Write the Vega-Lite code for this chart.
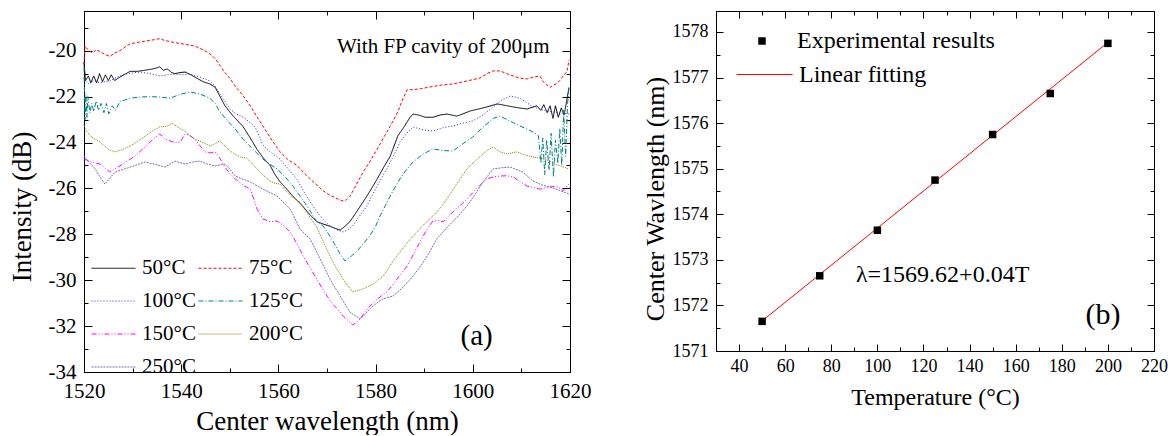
{
"$schema":"https://vega.github.io/schema/vega-lite/v6.json",
"padding":{"left":7,"top":10,"right":4,"bottom":0},
"spacing":146,
"bounds":"flush",
"config":{"font":"Liberation Serif","view":{"stroke":"black","strokeWidth":1},
"axis":{"domainColor":"black","tickColor":"black","labelColor":"black","titleColor":"black","titleFontWeight":"normal","grid":false,"labelOverlap":false,"labelFlush":false,"tickWidth":1,"domainWidth":1,"labelFont":"Liberation Serif","titleFont":"Liberation Serif"},
"legend":{"labelFont":"Liberation Serif","labelColor":"black","labelLimit":400}},
"datasets":{
"spectra":[
{"T":"50°C","wl":1520.0,"dB":-20.5},{"T":"50°C","wl":1520.3,"dB":-21.3},{"T":"50°C","wl":1520.9,"dB":-21.1},{"T":"50°C","wl":1521.4,"dB":-21.4},{"T":"50°C","wl":1522.0,"dB":-21.1},{"T":"50°C","wl":1522.6,"dB":-21.4},{"T":"50°C","wl":1523.2,"dB":-21.0},{"T":"50°C","wl":1523.8,"dB":-21.35},{"T":"50°C","wl":1524.4,"dB":-21.05},{"T":"50°C","wl":1525.0,"dB":-21.3},{"T":"50°C","wl":1525.6,"dB":-21.05},{"T":"50°C","wl":1526.3,"dB":-21.3},{"T":"50°C","wl":1527.0,"dB":-21.2},{"T":"50°C","wl":1528.2,"dB":-21.05},{"T":"50°C","wl":1529.5,"dB":-20.9},{"T":"50°C","wl":1531.0,"dB":-20.9},{"T":"50°C","wl":1532.6,"dB":-20.85},{"T":"50°C","wl":1534.0,"dB":-20.8},{"T":"50°C","wl":1535.0,"dB":-20.75},{"T":"50°C","wl":1535.6,"dB":-20.7},{"T":"50°C","wl":1536.3,"dB":-20.85},{"T":"50°C","wl":1537.2,"dB":-20.8},{"T":"50°C","wl":1538.0,"dB":-20.95},{"T":"50°C","wl":1538.7,"dB":-21.0},{"T":"50°C","wl":1539.8,"dB":-20.95},{"T":"50°C","wl":1540.8,"dB":-20.93},{"T":"50°C","wl":1542.0,"dB":-21.05},{"T":"50°C","wl":1542.8,"dB":-21.15},{"T":"50°C","wl":1544.5,"dB":-21.35},{"T":"50°C","wl":1545.9,"dB":-21.45},{"T":"50°C","wl":1547.0,"dB":-21.6},{"T":"50°C","wl":1548.0,"dB":-22.0},{"T":"50°C","wl":1549.0,"dB":-22.4},{"T":"50°C","wl":1550.5,"dB":-22.8},{"T":"50°C","wl":1552.7,"dB":-23.3},{"T":"50°C","wl":1554.2,"dB":-23.8},{"T":"50°C","wl":1555.6,"dB":-24.3},{"T":"50°C","wl":1557.0,"dB":-24.7},{"T":"50°C","wl":1558.3,"dB":-25.0},{"T":"50°C","wl":1559.3,"dB":-25.4},{"T":"50°C","wl":1560.3,"dB":-25.7},{"T":"50°C","wl":1561.6,"dB":-26.0},{"T":"50°C","wl":1563.0,"dB":-26.35},{"T":"50°C","wl":1564.0,"dB":-26.55},{"T":"50°C","wl":1565.1,"dB":-26.8},{"T":"50°C","wl":1566.5,"dB":-27.15},{"T":"50°C","wl":1567.9,"dB":-27.45},{"T":"50°C","wl":1569.2,"dB":-27.55},{"T":"50°C","wl":1570.6,"dB":-27.65},{"T":"50°C","wl":1571.8,"dB":-27.75},{"T":"50°C","wl":1572.7,"dB":-27.82},{"T":"50°C","wl":1573.7,"dB":-27.65},{"T":"50°C","wl":1574.7,"dB":-27.45},{"T":"50°C","wl":1576.0,"dB":-27.05},{"T":"50°C","wl":1577.4,"dB":-26.6},{"T":"50°C","wl":1578.9,"dB":-26.1},{"T":"50°C","wl":1580.3,"dB":-25.6},{"T":"50°C","wl":1581.6,"dB":-25.1},{"T":"50°C","wl":1583.0,"dB":-24.6},{"T":"50°C","wl":1583.8,"dB":-24.15},{"T":"50°C","wl":1584.6,"dB":-23.7},{"T":"50°C","wl":1585.6,"dB":-23.4},{"T":"50°C","wl":1586.5,"dB":-23.1},{"T":"50°C","wl":1587.1,"dB":-22.9},{"T":"50°C","wl":1587.7,"dB":-22.76},{"T":"50°C","wl":1588.8,"dB":-22.8},{"T":"50°C","wl":1590.2,"dB":-22.9},{"T":"50°C","wl":1591.8,"dB":-22.9},{"T":"50°C","wl":1593.3,"dB":-22.8},{"T":"50°C","wl":1594.7,"dB":-22.76},{"T":"50°C","wl":1596.7,"dB":-22.85},{"T":"50°C","wl":1598.0,"dB":-22.75},{"T":"50°C","wl":1599.4,"dB":-22.63},{"T":"50°C","wl":1601.0,"dB":-22.55},{"T":"50°C","wl":1602.9,"dB":-22.45},{"T":"50°C","wl":1605.0,"dB":-22.32},{"T":"50°C","wl":1606.6,"dB":-22.38},{"T":"50°C","wl":1608.3,"dB":-22.45},{"T":"50°C","wl":1609.7,"dB":-22.5},{"T":"50°C","wl":1611.2,"dB":-22.54},{"T":"50°C","wl":1612.4,"dB":-22.45},{"T":"50°C","wl":1613.2,"dB":-22.4},{"T":"50°C","wl":1614.0,"dB":-22.6},{"T":"50°C","wl":1614.6,"dB":-22.35},{"T":"50°C","wl":1615.3,"dB":-22.7},{"T":"50°C","wl":1615.9,"dB":-22.4},{"T":"50°C","wl":1616.5,"dB":-22.95},{"T":"50°C","wl":1617.0,"dB":-22.4},{"T":"50°C","wl":1617.6,"dB":-22.9},{"T":"50°C","wl":1618.2,"dB":-22.5},{"T":"50°C","wl":1618.8,"dB":-22.8},{"T":"50°C","wl":1619.3,"dB":-22.2},{"T":"50°C","wl":1619.8,"dB":-21.6},
{"T":"75°C","wl":1520.0,"dB":-20.6},{"T":"75°C","wl":1520.2,"dB":-19.8},{"T":"75°C","wl":1521.0,"dB":-20.0},{"T":"75°C","wl":1521.8,"dB":-20.1},{"T":"75°C","wl":1522.5,"dB":-19.95},{"T":"75°C","wl":1523.3,"dB":-20.05},{"T":"75°C","wl":1524.2,"dB":-20.15},{"T":"75°C","wl":1525.3,"dB":-20.25},{"T":"75°C","wl":1526.3,"dB":-20.1},{"T":"75°C","wl":1527.4,"dB":-20.0},{"T":"75°C","wl":1528.4,"dB":-19.85},{"T":"75°C","wl":1529.5,"dB":-19.7},{"T":"75°C","wl":1531.5,"dB":-19.62},{"T":"75°C","wl":1533.6,"dB":-19.55},{"T":"75°C","wl":1535.0,"dB":-19.5},{"T":"75°C","wl":1535.6,"dB":-19.47},{"T":"75°C","wl":1536.5,"dB":-19.55},{"T":"75°C","wl":1537.7,"dB":-19.6},{"T":"75°C","wl":1538.7,"dB":-19.65},{"T":"75°C","wl":1540.8,"dB":-19.72},{"T":"75°C","wl":1542.8,"dB":-19.8},{"T":"75°C","wl":1544.9,"dB":-20.0},{"T":"75°C","wl":1546.3,"dB":-20.2},{"T":"75°C","wl":1547.2,"dB":-20.4},{"T":"75°C","wl":1548.0,"dB":-20.65},{"T":"75°C","wl":1549.0,"dB":-20.95},{"T":"75°C","wl":1550.0,"dB":-21.2},{"T":"75°C","wl":1551.3,"dB":-21.6},{"T":"75°C","wl":1552.7,"dB":-21.95},{"T":"75°C","wl":1554.2,"dB":-22.4},{"T":"75°C","wl":1555.5,"dB":-22.85},{"T":"75°C","wl":1556.8,"dB":-23.28},{"T":"75°C","wl":1558.5,"dB":-23.85},{"T":"75°C","wl":1560.3,"dB":-24.4},{"T":"75°C","wl":1562.0,"dB":-24.75},{"T":"75°C","wl":1563.8,"dB":-25.0},{"T":"75°C","wl":1565.4,"dB":-25.35},{"T":"75°C","wl":1567.1,"dB":-25.7},{"T":"75°C","wl":1569.2,"dB":-26.1},{"T":"75°C","wl":1570.6,"dB":-26.3},{"T":"75°C","wl":1572.1,"dB":-26.45},{"T":"75°C","wl":1573.3,"dB":-26.55},{"T":"75°C","wl":1574.0,"dB":-26.5},{"T":"75°C","wl":1574.7,"dB":-26.35},{"T":"75°C","wl":1576.0,"dB":-25.85},{"T":"75°C","wl":1577.4,"dB":-25.3},{"T":"75°C","wl":1578.9,"dB":-24.8},{"T":"75°C","wl":1580.3,"dB":-24.3},{"T":"75°C","wl":1581.6,"dB":-23.8},{"T":"75°C","wl":1583.0,"dB":-23.3},{"T":"75°C","wl":1584.6,"dB":-22.65},{"T":"75°C","wl":1585.6,"dB":-22.1},{"T":"75°C","wl":1586.5,"dB":-21.7},{"T":"75°C","wl":1587.7,"dB":-21.7},{"T":"75°C","wl":1589.5,"dB":-21.65},{"T":"75°C","wl":1591.2,"dB":-21.58},{"T":"75°C","wl":1593.5,"dB":-21.5},{"T":"75°C","wl":1595.9,"dB":-21.45},{"T":"75°C","wl":1598.8,"dB":-21.32},{"T":"75°C","wl":1601.5,"dB":-21.19},{"T":"75°C","wl":1602.9,"dB":-21.0},{"T":"75°C","wl":1604.2,"dB":-20.88},{"T":"75°C","wl":1605.6,"dB":-20.88},{"T":"75°C","wl":1607.0,"dB":-21.0},{"T":"75°C","wl":1608.3,"dB":-21.1},{"T":"75°C","wl":1609.7,"dB":-21.2},{"T":"75°C","wl":1611.2,"dB":-21.23},{"T":"75°C","wl":1612.5,"dB":-21.15},{"T":"75°C","wl":1613.8,"dB":-21.1},{"T":"75°C","wl":1614.5,"dB":-21.35},{"T":"75°C","wl":1615.3,"dB":-21.5},{"T":"75°C","wl":1615.9,"dB":-21.6},{"T":"75°C","wl":1616.5,"dB":-21.5},{"T":"75°C","wl":1617.2,"dB":-21.45},{"T":"75°C","wl":1617.9,"dB":-21.3},{"T":"75°C","wl":1618.6,"dB":-21.1},{"T":"75°C","wl":1619.4,"dB":-20.9},{"T":"75°C","wl":1619.8,"dB":-20.4},
{"T":"100°C","wl":1520.0,"dB":-21.2},{"T":"100°C","wl":1521.0,"dB":-21.45},{"T":"100°C","wl":1522.0,"dB":-21.3},{"T":"100°C","wl":1523.3,"dB":-21.4},{"T":"100°C","wl":1524.3,"dB":-21.35},{"T":"100°C","wl":1525.3,"dB":-21.32},{"T":"100°C","wl":1526.8,"dB":-21.15},{"T":"100°C","wl":1528.4,"dB":-21.02},{"T":"100°C","wl":1530.0,"dB":-20.97},{"T":"100°C","wl":1531.5,"dB":-20.93},{"T":"100°C","wl":1533.6,"dB":-21.0},{"T":"100°C","wl":1535.6,"dB":-21.1},{"T":"100°C","wl":1537.2,"dB":-21.05},{"T":"100°C","wl":1538.7,"dB":-21.02},{"T":"100°C","wl":1540.3,"dB":-21.05},{"T":"100°C","wl":1541.8,"dB":-21.02},{"T":"100°C","wl":1543.9,"dB":-21.15},{"T":"100°C","wl":1545.9,"dB":-21.32},{"T":"100°C","wl":1547.0,"dB":-21.55},{"T":"100°C","wl":1548.0,"dB":-21.89},{"T":"100°C","wl":1549.0,"dB":-22.2},{"T":"100°C","wl":1550.0,"dB":-22.54},{"T":"100°C","wl":1551.3,"dB":-22.75},{"T":"100°C","wl":1552.7,"dB":-22.89},{"T":"100°C","wl":1554.0,"dB":-23.1},{"T":"100°C","wl":1555.2,"dB":-23.32},{"T":"100°C","wl":1556.0,"dB":-23.7},{"T":"100°C","wl":1556.8,"dB":-24.1},{"T":"100°C","wl":1558.5,"dB":-24.45},{"T":"100°C","wl":1560.3,"dB":-24.72},{"T":"100°C","wl":1562.0,"dB":-25.15},{"T":"100°C","wl":1563.8,"dB":-25.6},{"T":"100°C","wl":1565.4,"dB":-26.2},{"T":"100°C","wl":1567.1,"dB":-26.77},{"T":"100°C","wl":1568.2,"dB":-27.1},{"T":"100°C","wl":1569.2,"dB":-27.35},{"T":"100°C","wl":1570.6,"dB":-27.64},{"T":"100°C","wl":1572.0,"dB":-27.8},{"T":"100°C","wl":1573.3,"dB":-27.9},{"T":"100°C","wl":1574.3,"dB":-27.8},{"T":"100°C","wl":1575.3,"dB":-27.64},{"T":"100°C","wl":1576.7,"dB":-27.2},{"T":"100°C","wl":1578.2,"dB":-26.77},{"T":"100°C","wl":1579.3,"dB":-26.3},{"T":"100°C","wl":1580.3,"dB":-25.9},{"T":"100°C","wl":1582.3,"dB":-25.15},{"T":"100°C","wl":1583.4,"dB":-24.7},{"T":"100°C","wl":1584.4,"dB":-24.28},{"T":"100°C","wl":1585.0,"dB":-23.98},{"T":"100°C","wl":1586.4,"dB":-23.6},{"T":"100°C","wl":1587.7,"dB":-23.32},{"T":"100°C","wl":1589.8,"dB":-23.45},{"T":"100°C","wl":1591.8,"dB":-23.5},{"T":"100°C","wl":1594.0,"dB":-23.35},{"T":"100°C","wl":1595.9,"dB":-23.28},{"T":"100°C","wl":1598.0,"dB":-23.15},{"T":"100°C","wl":1600.0,"dB":-23.06},{"T":"100°C","wl":1602.1,"dB":-22.8},{"T":"100°C","wl":1604.2,"dB":-22.45},{"T":"100°C","wl":1606.0,"dB":-22.15},{"T":"100°C","wl":1607.7,"dB":-21.97},{"T":"100°C","wl":1609.7,"dB":-22.07},{"T":"100°C","wl":1611.0,"dB":-22.25},{"T":"100°C","wl":1612.4,"dB":-22.45},{"T":"100°C","wl":1614.0,"dB":-22.55},{"T":"100°C","wl":1615.3,"dB":-22.63},{"T":"100°C","wl":1617.5,"dB":-22.7},{"T":"100°C","wl":1619.8,"dB":-22.76},
{"T":"125°C","wl":1520.0,"dB":-20.7},{"T":"125°C","wl":1520.2,"dB":-23.0},{"T":"125°C","wl":1520.4,"dB":-21.9},{"T":"125°C","wl":1520.6,"dB":-22.9},{"T":"125°C","wl":1520.8,"dB":-22.0},{"T":"125°C","wl":1521.2,"dB":-22.7},{"T":"125°C","wl":1521.6,"dB":-22.3},{"T":"125°C","wl":1522.0,"dB":-22.65},{"T":"125°C","wl":1522.5,"dB":-22.2},{"T":"125°C","wl":1523.0,"dB":-22.6},{"T":"125°C","wl":1523.5,"dB":-22.3},{"T":"125°C","wl":1524.1,"dB":-22.7},{"T":"125°C","wl":1524.6,"dB":-22.3},{"T":"125°C","wl":1525.1,"dB":-22.75},{"T":"125°C","wl":1525.8,"dB":-22.4},{"T":"125°C","wl":1526.5,"dB":-22.6},{"T":"125°C","wl":1527.4,"dB":-22.2},{"T":"125°C","wl":1528.4,"dB":-22.15},{"T":"125°C","wl":1529.5,"dB":-22.07},{"T":"125°C","wl":1531.5,"dB":-22.02},{"T":"125°C","wl":1533.5,"dB":-22.0},{"T":"125°C","wl":1535.6,"dB":-22.02},{"T":"125°C","wl":1537.7,"dB":-22.07},{"T":"125°C","wl":1539.8,"dB":-21.9},{"T":"125°C","wl":1541.8,"dB":-21.8},{"T":"125°C","wl":1543.9,"dB":-21.89},{"T":"125°C","wl":1545.9,"dB":-22.07},{"T":"125°C","wl":1547.0,"dB":-22.3},{"T":"125°C","wl":1548.0,"dB":-22.67},{"T":"125°C","wl":1549.5,"dB":-23.05},{"T":"125°C","wl":1551.1,"dB":-23.41},{"T":"125°C","wl":1552.7,"dB":-23.85},{"T":"125°C","wl":1554.8,"dB":-24.3},{"T":"125°C","wl":1556.8,"dB":-24.72},{"T":"125°C","wl":1558.3,"dB":-24.95},{"T":"125°C","wl":1559.7,"dB":-25.15},{"T":"125°C","wl":1561.4,"dB":-25.5},{"T":"125°C","wl":1563.0,"dB":-25.9},{"T":"125°C","wl":1564.5,"dB":-26.35},{"T":"125°C","wl":1565.9,"dB":-26.77},{"T":"125°C","wl":1567.9,"dB":-27.46},{"T":"125°C","wl":1569.2,"dB":-27.64},{"T":"125°C","wl":1570.2,"dB":-27.95},{"T":"125°C","wl":1571.2,"dB":-28.29},{"T":"125°C","wl":1572.0,"dB":-28.6},{"T":"125°C","wl":1572.7,"dB":-28.86},{"T":"125°C","wl":1573.7,"dB":-29.16},{"T":"125°C","wl":1575.0,"dB":-28.95},{"T":"125°C","wl":1576.2,"dB":-28.73},{"T":"125°C","wl":1577.5,"dB":-28.4},{"T":"125°C","wl":1578.8,"dB":-28.07},{"T":"125°C","wl":1580.0,"dB":-27.65},{"T":"125°C","wl":1580.9,"dB":-27.2},{"T":"125°C","wl":1582.0,"dB":-26.75},{"T":"125°C","wl":1583.0,"dB":-26.33},{"T":"125°C","wl":1584.0,"dB":-25.95},{"T":"125°C","wl":1585.0,"dB":-25.59},{"T":"125°C","wl":1586.3,"dB":-25.2},{"T":"125°C","wl":1587.7,"dB":-24.85},{"T":"125°C","wl":1589.8,"dB":-24.5},{"T":"125°C","wl":1591.8,"dB":-24.28},{"T":"125°C","wl":1593.9,"dB":-24.35},{"T":"125°C","wl":1595.9,"dB":-24.37},{"T":"125°C","wl":1598.0,"dB":-24.05},{"T":"125°C","wl":1600.0,"dB":-23.76},{"T":"125°C","wl":1601.5,"dB":-23.45},{"T":"125°C","wl":1602.9,"dB":-23.19},{"T":"125°C","wl":1604.2,"dB":-22.95},{"T":"125°C","wl":1605.6,"dB":-22.85},{"T":"125°C","wl":1607.5,"dB":-23.05},{"T":"125°C","wl":1609.7,"dB":-23.28},{"T":"125°C","wl":1611.0,"dB":-23.4},{"T":"125°C","wl":1612.4,"dB":-23.54},{"T":"125°C","wl":1613.5,"dB":-23.7},{"T":"125°C","wl":1614.0,"dB":-24.9},{"T":"125°C","wl":1614.4,"dB":-23.8},{"T":"125°C","wl":1614.8,"dB":-25.4},{"T":"125°C","wl":1615.2,"dB":-23.9},{"T":"125°C","wl":1615.7,"dB":-25.2},{"T":"125°C","wl":1616.1,"dB":-23.6},{"T":"125°C","wl":1616.6,"dB":-25.5},{"T":"125°C","wl":1617.0,"dB":-23.9},{"T":"125°C","wl":1617.5,"dB":-24.9},{"T":"125°C","wl":1617.9,"dB":-23.4},{"T":"125°C","wl":1618.3,"dB":-25.0},{"T":"125°C","wl":1618.7,"dB":-22.6},{"T":"125°C","wl":1619.1,"dB":-24.6},{"T":"125°C","wl":1619.5,"dB":-22.3},{"T":"125°C","wl":1619.8,"dB":-21.6},
{"T":"150°C","wl":1520.0,"dB":-24.72},{"T":"150°C","wl":1521.5,"dB":-24.85},{"T":"150°C","wl":1523.3,"dB":-24.94},{"T":"150°C","wl":1524.3,"dB":-25.1},{"T":"150°C","wl":1525.3,"dB":-25.29},{"T":"150°C","wl":1526.3,"dB":-25.15},{"T":"150°C","wl":1527.4,"dB":-25.02},{"T":"150°C","wl":1529.0,"dB":-24.8},{"T":"150°C","wl":1530.5,"dB":-24.59},{"T":"150°C","wl":1532.0,"dB":-24.3},{"T":"150°C","wl":1533.6,"dB":-23.98},{"T":"150°C","wl":1534.6,"dB":-23.8},{"T":"150°C","wl":1535.6,"dB":-23.63},{"T":"150°C","wl":1536.7,"dB":-23.85},{"T":"150°C","wl":1537.7,"dB":-23.93},{"T":"150°C","wl":1538.7,"dB":-24.0},{"T":"150°C","wl":1539.8,"dB":-23.98},{"T":"150°C","wl":1540.8,"dB":-23.63},{"T":"150°C","wl":1541.8,"dB":-23.7},{"T":"150°C","wl":1542.8,"dB":-23.85},{"T":"150°C","wl":1543.9,"dB":-24.15},{"T":"150°C","wl":1544.9,"dB":-24.41},{"T":"150°C","wl":1546.0,"dB":-24.45},{"T":"150°C","wl":1547.0,"dB":-24.41},{"T":"150°C","wl":1548.0,"dB":-24.7},{"T":"150°C","wl":1549.0,"dB":-25.07},{"T":"150°C","wl":1550.0,"dB":-25.35},{"T":"150°C","wl":1551.1,"dB":-25.59},{"T":"150°C","wl":1553.1,"dB":-25.9},{"T":"150°C","wl":1554.2,"dB":-26.03},{"T":"150°C","wl":1555.0,"dB":-26.5},{"T":"150°C","wl":1555.6,"dB":-26.9},{"T":"150°C","wl":1556.8,"dB":-27.33},{"T":"150°C","wl":1558.3,"dB":-27.45},{"T":"150°C","wl":1559.7,"dB":-27.42},{"T":"150°C","wl":1561.0,"dB":-27.6},{"T":"150°C","wl":1562.4,"dB":-27.9},{"T":"150°C","wl":1563.8,"dB":-28.4},{"T":"150°C","wl":1565.1,"dB":-28.95},{"T":"150°C","wl":1566.5,"dB":-29.45},{"T":"150°C","wl":1567.9,"dB":-29.95},{"T":"150°C","wl":1569.0,"dB":-30.35},{"T":"150°C","wl":1570.0,"dB":-30.69},{"T":"150°C","wl":1571.0,"dB":-31.0},{"T":"150°C","wl":1572.1,"dB":-31.25},{"T":"150°C","wl":1573.5,"dB":-31.6},{"T":"150°C","wl":1575.3,"dB":-31.95},{"T":"150°C","wl":1576.0,"dB":-31.85},{"T":"150°C","wl":1576.8,"dB":-31.69},{"T":"150°C","wl":1577.8,"dB":-31.4},{"T":"150°C","wl":1578.8,"dB":-31.12},{"T":"150°C","wl":1580.5,"dB":-30.8},{"T":"150°C","wl":1582.3,"dB":-30.51},{"T":"150°C","wl":1583.4,"dB":-30.25},{"T":"150°C","wl":1584.4,"dB":-29.95},{"T":"150°C","wl":1585.5,"dB":-29.65},{"T":"150°C","wl":1586.5,"dB":-29.38},{"T":"150°C","wl":1588.2,"dB":-28.7},{"T":"150°C","wl":1589.8,"dB":-28.07},{"T":"150°C","wl":1590.8,"dB":-27.7},{"T":"150°C","wl":1591.8,"dB":-27.42},{"T":"150°C","wl":1592.8,"dB":-27.4},{"T":"150°C","wl":1593.9,"dB":-27.46},{"T":"150°C","wl":1594.9,"dB":-27.25},{"T":"150°C","wl":1595.9,"dB":-27.03},{"T":"150°C","wl":1597.4,"dB":-26.75},{"T":"150°C","wl":1598.8,"dB":-26.46},{"T":"150°C","wl":1600.8,"dB":-26.0},{"T":"150°C","wl":1602.9,"dB":-25.59},{"T":"150°C","wl":1604.2,"dB":-25.5},{"T":"150°C","wl":1605.6,"dB":-25.46},{"T":"150°C","wl":1607.0,"dB":-25.45},{"T":"150°C","wl":1608.3,"dB":-25.5},{"T":"150°C","wl":1609.7,"dB":-25.7},{"T":"150°C","wl":1611.2,"dB":-25.9},{"T":"150°C","wl":1613.8,"dB":-26.03},{"T":"150°C","wl":1615.5,"dB":-25.95},{"T":"150°C","wl":1617.3,"dB":-25.9},{"T":"150°C","wl":1618.6,"dB":-26.1},{"T":"150°C","wl":1619.8,"dB":-25.8},
{"T":"200°C","wl":1520.0,"dB":-23.2},{"T":"200°C","wl":1520.3,"dB":-23.45},{"T":"200°C","wl":1521.5,"dB":-23.75},{"T":"200°C","wl":1523.3,"dB":-23.98},{"T":"200°C","wl":1525.0,"dB":-24.3},{"T":"200°C","wl":1526.4,"dB":-24.41},{"T":"200°C","wl":1528.0,"dB":-24.3},{"T":"200°C","wl":1529.5,"dB":-24.15},{"T":"200°C","wl":1531.0,"dB":-23.95},{"T":"200°C","wl":1532.6,"dB":-23.72},{"T":"200°C","wl":1534.1,"dB":-23.5},{"T":"200°C","wl":1535.6,"dB":-23.32},{"T":"200°C","wl":1537.0,"dB":-23.3},{"T":"200°C","wl":1538.3,"dB":-23.15},{"T":"200°C","wl":1538.7,"dB":-23.24},{"T":"200°C","wl":1539.8,"dB":-23.4},{"T":"200°C","wl":1540.8,"dB":-23.5},{"T":"200°C","wl":1541.8,"dB":-23.7},{"T":"200°C","wl":1542.8,"dB":-23.85},{"T":"200°C","wl":1544.5,"dB":-24.0},{"T":"200°C","wl":1545.9,"dB":-24.15},{"T":"200°C","wl":1547.0,"dB":-24.05},{"T":"200°C","wl":1548.0,"dB":-23.93},{"T":"200°C","wl":1549.0,"dB":-24.15},{"T":"200°C","wl":1550.0,"dB":-24.37},{"T":"200°C","wl":1551.0,"dB":-24.5},{"T":"200°C","wl":1552.1,"dB":-24.63},{"T":"200°C","wl":1553.5,"dB":-24.68},{"T":"200°C","wl":1554.5,"dB":-24.9},{"T":"200°C","wl":1555.6,"dB":-25.15},{"T":"200°C","wl":1557.0,"dB":-25.45},{"T":"200°C","wl":1558.3,"dB":-25.68},{"T":"200°C","wl":1559.3,"dB":-25.78},{"T":"200°C","wl":1560.3,"dB":-25.81},{"T":"200°C","wl":1561.8,"dB":-26.16},{"T":"200°C","wl":1563.0,"dB":-26.4},{"T":"200°C","wl":1564.4,"dB":-26.59},{"T":"200°C","wl":1566.0,"dB":-27.1},{"T":"200°C","wl":1567.9,"dB":-27.68},{"T":"200°C","wl":1569.2,"dB":-28.3},{"T":"200°C","wl":1570.6,"dB":-28.95},{"T":"200°C","wl":1572.0,"dB":-29.5},{"T":"200°C","wl":1573.3,"dB":-29.95},{"T":"200°C","wl":1574.3,"dB":-30.25},{"T":"200°C","wl":1575.3,"dB":-30.51},{"T":"200°C","wl":1576.3,"dB":-30.45},{"T":"200°C","wl":1577.4,"dB":-30.38},{"T":"200°C","wl":1579.5,"dB":-30.17},{"T":"200°C","wl":1581.5,"dB":-29.82},{"T":"200°C","wl":1582.6,"dB":-29.5},{"T":"200°C","wl":1583.6,"dB":-29.16},{"T":"200°C","wl":1585.0,"dB":-28.77},{"T":"200°C","wl":1586.8,"dB":-28.3},{"T":"200°C","wl":1588.5,"dB":-27.9},{"T":"200°C","wl":1590.5,"dB":-27.45},{"T":"200°C","wl":1592.6,"dB":-27.03},{"T":"200°C","wl":1593.7,"dB":-26.75},{"T":"200°C","wl":1594.7,"dB":-26.46},{"T":"200°C","wl":1596.7,"dB":-25.8},{"T":"200°C","wl":1598.8,"dB":-25.15},{"T":"200°C","wl":1600.5,"dB":-24.8},{"T":"200°C","wl":1602.1,"dB":-24.5},{"T":"200°C","wl":1603.2,"dB":-24.3},{"T":"200°C","wl":1604.2,"dB":-24.2},{"T":"200°C","wl":1605.5,"dB":-24.4},{"T":"200°C","wl":1607.0,"dB":-24.5},{"T":"200°C","wl":1608.0,"dB":-24.45},{"T":"200°C","wl":1609.1,"dB":-24.41},{"T":"200°C","wl":1610.8,"dB":-24.55},{"T":"200°C","wl":1612.4,"dB":-24.63},{"T":"200°C","wl":1614.2,"dB":-24.7},{"T":"200°C","wl":1615.9,"dB":-24.81},{"T":"200°C","wl":1617.9,"dB":-25.02},{"T":"200°C","wl":1619.8,"dB":-25.15},
{"T":"250°C","wl":1520.0,"dB":-24.59},{"T":"250°C","wl":1521.2,"dB":-24.9},{"T":"250°C","wl":1522.3,"dB":-25.15},{"T":"250°C","wl":1523.3,"dB":-25.5},{"T":"250°C","wl":1524.3,"dB":-25.81},{"T":"250°C","wl":1525.3,"dB":-25.55},{"T":"250°C","wl":1526.4,"dB":-25.29},{"T":"250°C","wl":1528.4,"dB":-25.15},{"T":"250°C","wl":1530.5,"dB":-25.0},{"T":"250°C","wl":1532.6,"dB":-24.85},{"T":"250°C","wl":1534.6,"dB":-24.95},{"T":"250°C","wl":1536.7,"dB":-25.07},{"T":"250°C","wl":1538.7,"dB":-24.81},{"T":"250°C","wl":1540.8,"dB":-24.94},{"T":"250°C","wl":1542.3,"dB":-24.85},{"T":"250°C","wl":1543.9,"dB":-24.81},{"T":"250°C","wl":1545.5,"dB":-24.95},{"T":"250°C","wl":1547.0,"dB":-25.02},{"T":"250°C","wl":1549.0,"dB":-24.94},{"T":"250°C","wl":1550.0,"dB":-25.15},{"T":"250°C","wl":1551.1,"dB":-25.46},{"T":"250°C","wl":1552.7,"dB":-25.6},{"T":"250°C","wl":1554.2,"dB":-25.72},{"T":"250°C","wl":1556.8,"dB":-26.03},{"T":"250°C","wl":1559.7,"dB":-26.33},{"T":"250°C","wl":1561.0,"dB":-26.6},{"T":"250°C","wl":1562.4,"dB":-26.9},{"T":"250°C","wl":1563.4,"dB":-27.3},{"T":"250°C","wl":1564.4,"dB":-27.77},{"T":"250°C","wl":1566.5,"dB":-28.2},{"T":"250°C","wl":1567.5,"dB":-28.6},{"T":"250°C","wl":1568.6,"dB":-29.08},{"T":"250°C","wl":1570.6,"dB":-29.95},{"T":"250°C","wl":1572.7,"dB":-30.69},{"T":"250°C","wl":1574.7,"dB":-31.39},{"T":"250°C","wl":1576.8,"dB":-31.69},{"T":"250°C","wl":1577.8,"dB":-31.5},{"T":"250°C","wl":1578.8,"dB":-31.25},{"T":"250°C","wl":1580.2,"dB":-31.0},{"T":"250°C","wl":1581.5,"dB":-30.82},{"T":"250°C","wl":1583.6,"dB":-30.69},{"T":"250°C","wl":1585.7,"dB":-30.3},{"T":"250°C","wl":1587.7,"dB":-29.82},{"T":"250°C","wl":1589.2,"dB":-29.4},{"T":"250°C","wl":1590.6,"dB":-28.95},{"T":"250°C","wl":1592.6,"dB":-28.2},{"T":"250°C","wl":1595.3,"dB":-27.57},{"T":"250°C","wl":1597.0,"dB":-27.2},{"T":"250°C","wl":1598.8,"dB":-26.77},{"T":"250°C","wl":1600.5,"dB":-26.25},{"T":"250°C","wl":1602.1,"dB":-25.72},{"T":"250°C","wl":1604.2,"dB":-25.15},{"T":"250°C","wl":1606.0,"dB":-25.1},{"T":"250°C","wl":1607.7,"dB":-25.07},{"T":"250°C","wl":1610.3,"dB":-25.29},{"T":"250°C","wl":1612.4,"dB":-25.68},{"T":"250°C","wl":1614.2,"dB":-25.85},{"T":"250°C","wl":1615.9,"dB":-25.94},{"T":"250°C","wl":1618.0,"dB":-26.1},{"T":"250°C","wl":1619.8,"dB":-26.24}
],
"exp":[{"kind":"Experimental results","T":50,"W":1571.65},{"kind":"Experimental results","T":75,"W":1572.65},{"kind":"Experimental results","T":100,"W":1573.65},{"kind":"Experimental results","T":125,"W":1574.75},{"kind":"Experimental results","T":150,"W":1575.75},{"kind":"Experimental results","T":175,"W":1576.65},{"kind":"Experimental results","T":200,"W":1577.75}],
"fit":[{"kind":"Linear fitting","T":50,"W":1571.66},{"kind":"Linear fitting","T":200,"W":1577.77}]
},
"hconcat":[
{"width":486,"height":361,
"resolve":{"axis":{"x":"independent","y":"independent"}},
"layer":[
{"data":{"name":"spectra"},
"mark":{"type":"line","strokeWidth":1},
"encoding":{
"x":{"field":"wl","type":"quantitative","scale":{"domain":[1520,1620],"nice":false,"zero":false},
"axis":{"title":"Center wavelength (nm)","titleFontSize":27,"titleY":57,"titleBaseline":"alphabetic","values":[1520,1530,1540,1550,1560,1570,1580,1590,1600,1610,1620],"labelExpr":"datum.value % 20 === 0 ? '' + datum.value : ''","labelFontSize":21,"labelPadding":16,"tickSize":{"condition":{"test":"datum.value % 20 === 0","value":-8},"value":-4}}},
"y":{"field":"dB","type":"quantitative","scale":{"domain":[-34,-18.27],"nice":false,"zero":false},
"axis":{"title":"Intensity (dB)","titleFontSize":27,"titleX":-54,"titleY":195.5,"titleBaseline":"alphabetic","titleAlign":"center","values":[-34,-33,-32,-31,-30,-29,-28,-27,-26,-25,-24,-23,-22,-21,-20,-19],"labelExpr":"datum.value % 2 === 0 ? '-' + abs(datum.value) : ''","labelFontSize":21,"labelPadding":16,"tickSize":{"condition":{"test":"datum.value % 2 === 0","value":-8},"value":-4}}},
"color":{"field":"T","type":"nominal","scale":{"domain":["50°C","75°C","100°C","125°C","150°C","200°C","250°C"],"range":["#000000","#ff0000","#2020ff","#008080","#ff00ff","#808000","#7070b8"]},
"legend":{"orient":"none","legendX":7,"legendY":234.5,"columns":2,"direction":"horizontal","title":null,"symbolType":"stroke","symbolSize":1936,"symbolStrokeWidth":1,"labelFontSize":21,"labelOffset":6,"rowPadding":-16,"columnPadding":0,"padding":0}},
"strokeDash":{"field":"T","type":"nominal","scale":{"domain":["50°C","75°C","100°C","125°C","150°C","200°C","250°C"],"range":[[1,0],[3,2],[1,2],[5,2,1,2],[5,2,1,2,1,2],[1,1],[2,1]]},
"legend":{"orient":"none","legendX":7,"legendY":234.5,"columns":2,"direction":"horizontal","title":null,"symbolType":"stroke","symbolSize":1936,"symbolStrokeWidth":1,"labelFontSize":21,"labelOffset":6,"rowPadding":-16,"columnPadding":0,"padding":0}}
}},
{"data":{"name":"fit"},
"mark":{"type":"point","opacity":0,"size":0},
"encoding":{
"x":{"datum":1520,"type":"quantitative","axis":{"orient":"top","labels":false,"title":null,"values":[1520,1530,1540,1550,1560,1570,1580,1590,1600,1610,1620],"tickSize":{"condition":{"test":"datum.value % 20 === 0","value":-8},"value":-4}}},
"y":{"datum":-34,"type":"quantitative","axis":{"orient":"right","labels":false,"title":null,"values":[-34,-33,-32,-31,-30,-29,-28,-27,-26,-25,-24,-23,-22,-21,-20,-19],"tickSize":{"condition":{"test":"datum.value % 2 === 0","value":-8},"value":-4}}}
}},
{"data":{"values":[{}]},
"mark":{"type":"text","text":"With FP cavity of 200μm","align":"left","baseline":"middle","fontSize":21,"font":"Liberation Serif","color":"black"},
"encoding":{"x":{"datum":1572.06,"type":"quantitative","axis":null},"y":{"datum":-19.84,"type":"quantitative","axis":null}}},
{"data":{"values":[{}]},
"mark":{"type":"text","text":"(a)","align":"center","baseline":"middle","fontSize":29,"font":"Liberation Serif","color":"black"},
"encoding":{"x":{"datum":1600.8,"type":"quantitative","axis":null},"y":{"datum":-32.45,"type":"quantitative","axis":null}}}
]},
{"width":438,"height":340,
"resolve":{"axis":{"x":"independent","y":"independent"}},
"layer":[
{"data":{"name":"fit"},
"mark":{"type":"line","strokeWidth":1},
"encoding":{
"x":{"field":"T","type":"quantitative","scale":{"domain":[30,220],"nice":false,"zero":false},"axis":null},
"y":{"field":"W","type":"quantitative","scale":{"domain":[1571,1578.46],"nice":false,"zero":false},"axis":null},
"stroke":{"field":"kind","type":"nominal","scale":{"range":["#ff0000"]},
"legend":{"orient":"none","legendX":652,"legendY":35,"title":null,"labelFontSize":24,"labelOffset":6,"symbolSize":3136,"symbolStrokeWidth":1,"padding":0}}
}},
{"data":{"name":"exp"},
"mark":{"type":"square","size":56,"opacity":1},
"encoding":{
"x":{"field":"T","type":"quantitative",
"axis":{"title":"Temperature (°C)","titleFontSize":24,"titleY":53,"titleBaseline":"alphabetic","values":[40,50,60,70,80,90,100,110,120,130,140,150,160,170,180,190,200,210,220],"labelExpr":"datum.value % 20 === 0 ? '' + datum.value : ''","labelFontSize":18,"labelPadding":13,"tickSize":{"condition":{"test":"datum.value % 20 === 0","value":-7},"value":-4}}},
"y":{"field":"W","type":"quantitative",
"axis":{"title":"Center Wavlength (nm)","titleFontSize":26,"titleX":-53,"titleY":187.5,"titleBaseline":"alphabetic","titleAlign":"center","values":[1571,1571.5,1572,1572.5,1573,1573.5,1574,1574.5,1575,1575.5,1576,1576.5,1577,1577.5,1578],"labelExpr":"datum.value % 1 === 0 ? '' + datum.value : ''","labelFontSize":18,"labelPadding":15,"tickSize":{"condition":{"test":"datum.value % 1 === 0","value":-7},"value":-4}}},
"fill":{"field":"kind","type":"nominal","scale":{"range":["#000000"]},
"legend":{"orient":"none","legendX":666,"legendY":18,"title":null,"labelFontSize":24,"labelOffset":23,"symbolSize":56,"padding":0}}
}},
{"data":{"name":"fit"},
"mark":{"type":"point","opacity":0,"size":0},
"encoding":{
"x":{"datum":50,"type":"quantitative","axis":{"orient":"top","labels":false,"title":null,"values":[40,50,60,70,80,90,100,110,120,130,140,150,160,170,180,190,200,210,220],"tickSize":{"condition":{"test":"datum.value % 20 === 0","value":-7},"value":-4}}},
"y":{"datum":1572,"type":"quantitative","axis":{"orient":"right","labels":false,"title":null,"values":[1571,1571.5,1572,1572.5,1573,1573.5,1574,1574.5,1575,1575.5,1576,1576.5,1577,1577.5,1578],"tickSize":{"condition":{"test":"datum.value % 1 === 0","value":-7},"value":-4}}}
}},
{"data":{"values":[{}]},
"mark":{"type":"text","text":"λ=1569.62+0.04T","align":"left","baseline":"middle","fontSize":24,"font":"Liberation Serif","color":"black"},
"encoding":{"x":{"datum":90.7,"type":"quantitative","axis":null},"y":{"datum":1572.66,"type":"quantitative","axis":null}}},
{"data":{"values":[{}]},
"mark":{"type":"text","text":"(b)","align":"center","baseline":"middle","fontSize":30,"font":"Liberation Serif","color":"black"},
"encoding":{"x":{"datum":197.9,"type":"quantitative","axis":null},"y":{"datum":1571.79,"type":"quantitative","axis":null}}}
]}
]
}
